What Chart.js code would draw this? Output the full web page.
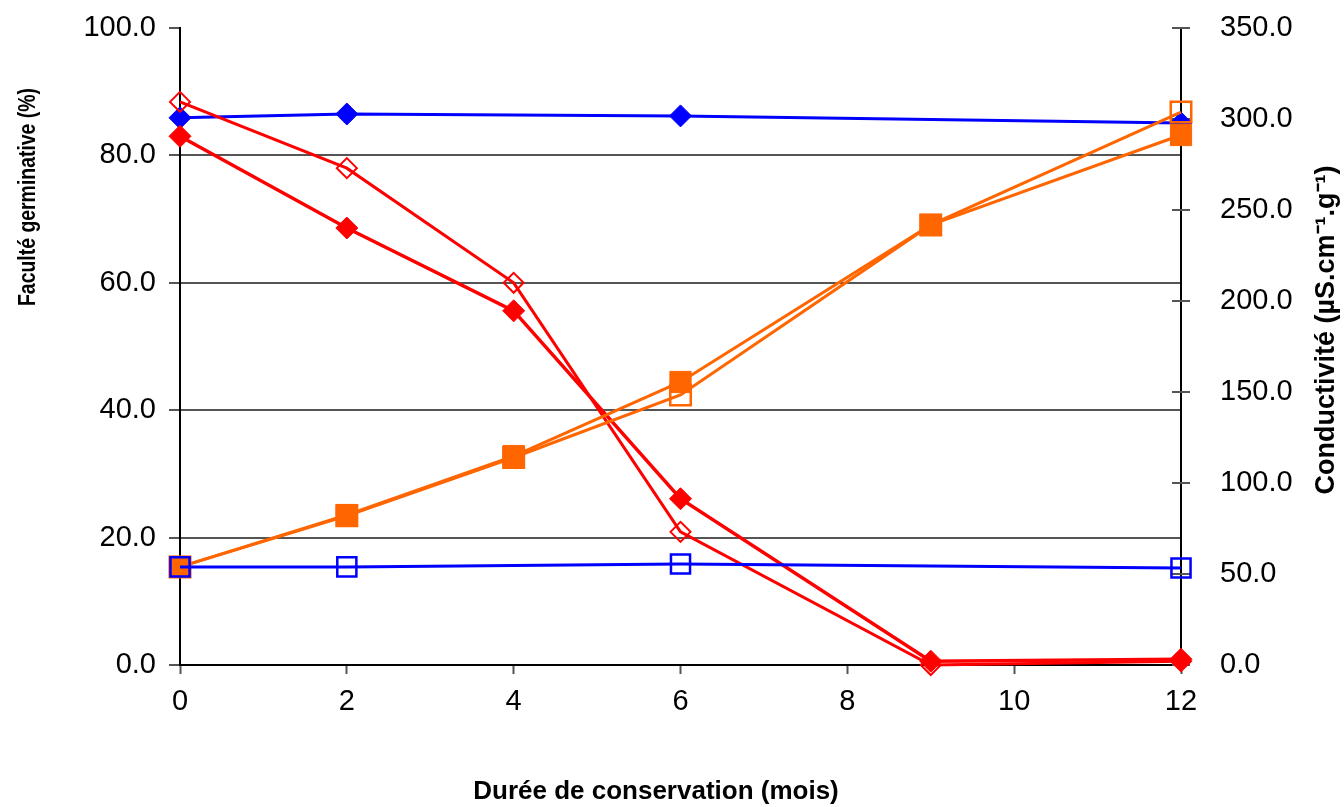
<!DOCTYPE html>
<html>
<head>
<meta charset="utf-8">
<script src="https://cdn.jsdelivr.net/npm/chart.js@4"></script>
<style>
  body { margin: 0; background: #fff; }
  #wrap { width: 1344px; height: 807px; }
</style>
</head>
<body>
<div id="wrap"><canvas id="mainChart" width="1344" height="807"></canvas></div>
<script>
// months of storage
const monthsAll = [0, 2, 4, 6, 9, 12]
const monthsBlue = [0, 2, 6, 12]

// germination (%) - left axis
const germBlue = [85.9, 86.5, 86.2, 85.1]
const germRedFilled = [83.0, 68.6, 55.6, 26.1, 0.6, 0.9]
const germRedOpen = [88.4, 78.0, 60.0, 20.9, 0.0, 0.6]

// conductivity (µS.cm-1.g-1) - right axis
const condBlue = [53.9, 53.9, 55.5, 53.3]
const condOrangeFilled = [53.9, 82.4, 114.8, 155.5, 241.8, 291.2]
const condOrangeOpen = [53.9, 82.0, 114.0, 148.4, 241.8, 303.8]

const xTitle = 'Durée de conservation (mois)'
const leftTitle = 'Faculté germinative (%)'
const rightTitle = 'Conductivité (µS.cm⁻¹.g⁻¹)'

const blue = '#0000ff', red = '#ff0000', orange = '#ff6600'
const tickFont = { family: '"Liberation Sans", Arial, sans-serif', size: 29, lineHeight: 1 }

const pts = (xs, ys) => xs.map((x, i) => ({ x: x, y: ys[i] }))

// right axis tick marks cross the axis line in the original
const crossTicks = {
  id: 'crossTicks',
  beforeDatasetsDraw(chart) {
    const ctx = chart.ctx
    const scale = chart.scales.y2
    const x = scale.left
    ctx.save()
    ctx.strokeStyle = '#555'
    ctx.lineWidth = 2
    scale.ticks.forEach((t) => {
      const y = Math.round(scale.getPixelForValue(t.value))
      ctx.beginPath()
      ctx.moveTo(x - 9, y)
      ctx.lineTo(x + 9, y)
      ctx.stroke()
    })
    ctx.restore()
  }
}

// axis titles drawn by hand so they sit where the original put them
const axisTitles = {
  id: 'axisTitles',
  afterDraw(chart) {
    const ctx = chart.ctx
    const area = chart.chartArea
    ctx.save()
    ctx.fillStyle = '#000'
    ctx.textAlign = 'center'
    ctx.textBaseline = 'middle'
    ctx.font = 'bold 26px "Liberation Sans", Arial, sans-serif'
    ctx.fillText(xTitle, area.left + 476, 792)

    // the left title is squeezed in the original
    ctx.save()
    ctx.font = 'bold 24px "Liberation Sans", Arial, sans-serif'
    ctx.translate(28, area.top + 169)
    ctx.rotate(-Math.PI / 2)
    ctx.scale(218 / ctx.measureText(leftTitle).width, 1)
    ctx.fillText(leftTitle, 0, 0)
    ctx.restore()

    ctx.save()
    ctx.font = 'bold 27px "Liberation Sans", Arial, sans-serif'
    ctx.translate(1327, area.top + 302)
    ctx.rotate(-Math.PI / 2)
    ctx.fillText(rightTitle, 0, 0)
    ctx.restore()
    ctx.restore()
  }
}

const datasets = [
  {
    label: 'conductivité bleu',
    data: pts(monthsBlue, condBlue),
    yAxisID: 'y2',
    borderColor: blue,
    backgroundColor: 'transparent',
    pointStyle: 'rect',
    pointRadius: 13.5,
    pointBorderWidth: 2.5,
    borderWidth: 3,
  },
  {
    label: 'conductivité orange (ouvert)',
    data: pts(monthsAll, condOrangeOpen),
    yAxisID: 'y2',
    borderColor: orange,
    backgroundColor: 'transparent',
    pointStyle: 'rect',
    pointRadius: 14.5,
    pointBorderWidth: 2.5,
    borderWidth: 3,
  },
  {
    label: 'conductivité orange',
    data: pts(monthsAll, condOrangeFilled),
    yAxisID: 'y2',
    borderColor: orange,
    backgroundColor: orange,
    pointStyle: 'rect',
    pointRadius: 15,
    pointBorderWidth: 1,
    borderWidth: 3,
  },
  {
    label: 'faculté rouge',
    data: pts(monthsAll, germRedFilled),
    yAxisID: 'y',
    borderColor: red,
    backgroundColor: red,
    pointStyle: 'rectRot',
    pointRadius: 11,
    pointBorderWidth: 1,
    borderWidth: 3.5,
  },
  {
    label: 'faculté rouge (ouvert)',
    data: pts(monthsAll, germRedOpen),
    yAxisID: 'y',
    borderColor: red,
    backgroundColor: 'transparent',
    pointStyle: 'rectRot',
    pointRadius: 10,
    pointBorderWidth: 2,
    borderWidth: 3,
  },
  {
    label: 'faculté bleu',
    data: pts(monthsBlue, germBlue),
    yAxisID: 'y',
    borderColor: blue,
    backgroundColor: blue,
    pointStyle: 'rectRot',
    pointRadius: 11,
    pointBorderWidth: 1,
    borderWidth: 3,
  },
]
datasets.forEach((d) => { d.clip = false })

new Chart('mainChart', {
  type: 'line',
  data: { datasets: datasets },
  options: {
    responsive: false,
    animation: false,
    layout: { autoPadding: false, padding: { top: 28, left: 0, right: 0, bottom: 0 } },
    plugins: {
      legend: { display: false },
      tooltip: { enabled: false },
    },
    elements: { line: { tension: 0 } },
    scales: {
      x: {
        type: 'linear',
        min: 0,
        max: 12,
        ticks: { stepSize: 2, color: '#000', font: tickFont, padding: 13, maxRotation: 0 },
        grid: { drawOnChartArea: false, tickLength: 9, tickColor: '#555', tickWidth: 2 },
        border: { color: '#000', width: 2 },
        afterFit: (s) => { s.height = 142 },
      },
      y: {
        position: 'left',
        min: 0,
        max: 100,
        ticks: { stepSize: 20, color: '#000', font: tickFont, padding: 13, callback: (v) => v.toFixed(1) },
        grid: {
          color: (c) => (c.tick && (c.tick.value === 0 || c.tick.value === 100)) ? 'rgba(0,0,0,0)' : '#555',
          lineWidth: 2,
          tickLength: 11,
          tickColor: '#555',
          tickWidth: 2,
        },
        border: { color: '#000', width: 2 },
        afterFit: (s) => { s.width = 180 },
      },
      y2: {
        position: 'right',
        min: 0,
        max: 350,
        ticks: { stepSize: 50, color: '#000', font: tickFont, padding: 12, callback: (v) => v.toFixed(1) },
        grid: { drawOnChartArea: false, tickLength: 27, tickColor: 'rgba(0,0,0,0)' },
        border: { color: '#000', width: 2 },
        afterFit: (s) => { s.width = 163 },
      },
    },
  },
  plugins: [crossTicks, axisTitles],
})
</script>
</body>
</html>
